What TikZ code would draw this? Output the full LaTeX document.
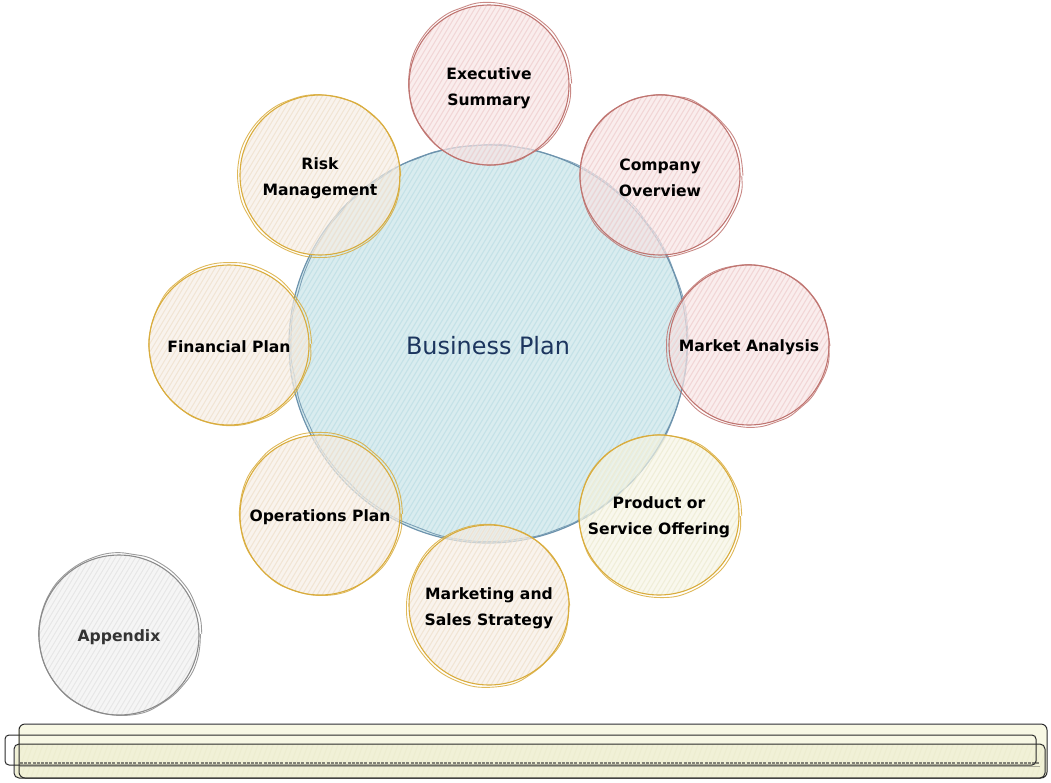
\documentclass[tikz,border=0pt]{standalone}
\usepackage{fontspec}
\setmainfont{DejaVu Sans}
\usetikzlibrary{decorations.pathmorphing}
\definecolor{bluF}{HTML}{D9ECEF}
\definecolor{bluH}{HTML}{BCDDE4}
\definecolor{bluS}{HTML}{6D93AD}
\definecolor{redF}{HTML}{F7E5E5}
\definecolor{redH}{HTML}{EFCDCD}
\definecolor{redS}{HTML}{BF7470}
\definecolor{pchF}{HTML}{F6EEE5}
\definecolor{pchH}{HTML}{EFDFCB}
\definecolor{gldS}{HTML}{D9AC3C}
\definecolor{prdF}{HTML}{F6F5E5}
\definecolor{prdH}{HTML}{ECEAD0}
\definecolor{gryF}{HTML}{F1F1F1}
\definecolor{gryH}{HTML}{E2E2E2}
\definecolor{gryS}{HTML}{8A8A8A}
\definecolor{navy}{HTML}{1C355E}
\definecolor{barF}{HTML}{F8F8E4}
\definecolor{barH}{HTML}{EDEDCF}
\definecolor{barS}{HTML}{2A2A2A}
\newcommand\lblfont{\fontsize{15.6}{26}\bfseries\selectfont}
\begin{document}
\begin{tikzpicture}[x=1pt,y=-1pt,
  hatched/.style n args={4}{fill=#1, path picture={
    \foreach \k in {-#3,...,#3}{
      \draw[#2, line width=1.1pt, draw opacity=0.7]
        ([xshift={\k*5pt-0.6*#4pt}, yshift={-#4pt}]path picture bounding box.center)
        -- ++({1.2*#4pt},{2*#4pt});}}},
  bub/.style={circle, minimum size=160pt, inner sep=0pt, fill opacity=0.68, line width=1.1pt},
  lbl/.style={align=center, font=\lblfont, inner sep=0pt},
  sk/.style={draw=#1, decorate, decoration={random steps,segment length=14pt,amplitude=0.9pt},
    rounded corners=6pt, line width=0.9pt, draw opacity=0.85},
  redB/.style={bub, hatched={redF}{redH}{26}{80}, draw=redS},
  pchB/.style={bub, hatched={pchF}{pchH}{26}{80}, draw=gldS},
  prdB/.style={bub, hatched={prdF}{prdH}{26}{80}, draw=gldS},
  gryB/.style={bub, hatched={gryF}{gryH}{26}{80}, draw=gryS},
]
\pgfmathsetseed{11}
\useasboundingbox (0,0) rectangle (1051,782);

% central circle
\node[circle, minimum size=398pt, inner sep=0pt, hatched={bluF}{bluH}{66}{199},
  draw=bluS, line width=1.2pt] (bp) at (488,344) {};
\draw[sk=bluS] ([shift={(1.5,-1)}]bp.center) circle[radius=198];

% satellites
\node[redB] (exec) at (489,85) {};
\node[redB] (comp) at (660,175) {};
\node[redB] (mark) at (749,345) {};
\node[prdB] (prod) at (659,515) {};
\node[pchB] (mkt)  at (489,605) {};
\node[pchB] (ops)  at (320,515) {};
\node[pchB] (fin)  at (229,345) {};
\node[pchB] (risk) at (320,175) {};
\node[gryB] (app)  at (119,635) {};

\draw[sk=redS] ([shift={(1,-1.2)}]exec.center) circle[radius=80.5];
\draw[sk=redS] ([shift={(1.2,0.8)}]comp.center) circle[radius=80.5];
\draw[sk=redS] ([shift={(-0.8,1)}]mark.center) circle[radius=80.5];
\draw[sk=gldS] ([shift={(1,1)}]prod.center) circle[radius=80.5];
\draw[sk=gldS] ([shift={(-1,0.8)}]mkt.center) circle[radius=80.5];
\draw[sk=gldS] ([shift={(0.8,-1)}]ops.center) circle[radius=80.5];
\draw[sk=gldS] ([shift={(1,-0.8)}]fin.center) circle[radius=80.5];
\draw[sk=gldS] ([shift={(-1,1)}]risk.center) circle[radius=80.5];
\draw[sk=gryS] ([shift={(1,-1)}]app.center) circle[radius=80.5];

% labels
\node[font=\fontsize{23.9}{28}\selectfont, text=navy, inner sep=0pt] (bp-t) at ([yshift=-1.5pt]bp.center) {Business Plan};
\node[lbl] (exec-t) at ([yshift=-3pt]exec.center) {Executive\\Summary};
\node[lbl] (comp-t) at ([yshift=-3pt]comp.center) {Company\\Overview};
\node[lbl] (mark-t) at ([yshift=-2.5pt]mark.center) {Market Analysis};
\node[lbl] (prod-t) at ([yshift=-2pt]prod.center) {Product or\\Service Offering};
\node[lbl] (mkt-t)  at ([yshift=-3pt]mkt.center) {Marketing and\\Sales Strategy};
\node[lbl] (ops-t)  at ([yshift=-2pt]ops.center) {Operations Plan};
\node[lbl] (fin-t)  at ([yshift=-2pt]fin.center) {Financial Plan};
\node[lbl] (risk-t) at ([yshift=-3pt]risk.center) {Risk\\Management};
\node[lbl, text=black!80] (app-t) at ([yshift=-2pt]app.center) {Appendix};

% bottom bar
\fill[barF, rounded corners=6pt] (18,725) rectangle (1047,778);
\begin{scope}
  \clip[rounded corners=5pt] (15,744) rectangle (1045,778);
  \fill[barH!60!barF] (15,744) rectangle (1045,778);
  \foreach \k in {0,...,215}{
    \draw[barH, line width=1pt] (10+\k*5,780) -- ++(14,-38);}
\end{scope}
\draw[barS, line width=2pt, dash pattern=on 3pt off 1.2pt, opacity=0.55] (20,763) -- (1040,763);
\draw[barS, line width=1pt, opacity=0.35] (20,766) -- (1040,766);
\node[draw=barS, line width=1pt, rounded corners=6pt, minimum width=1028pt, minimum height=54pt, inner sep=0pt] (bar) at (533,751) {};
\draw[barS, line width=1pt, rounded corners=4pt] (5,735) rectangle (1036,765);
\draw[barS, line width=1pt, rounded corners=5pt] (14,744) rectangle (1045,778);
\end{tikzpicture}
\end{document}
